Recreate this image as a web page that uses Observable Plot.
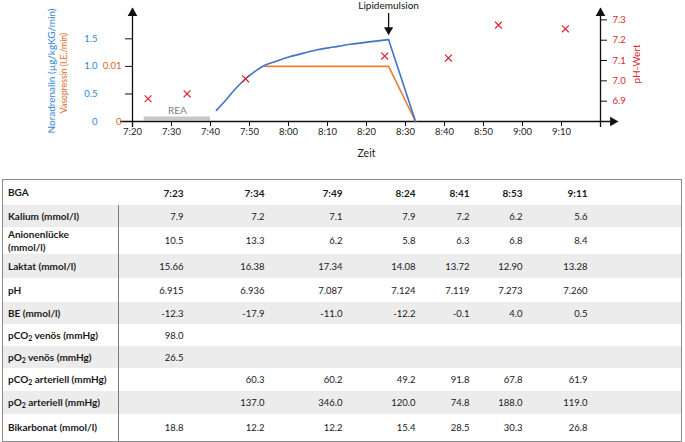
<!DOCTYPE html>
<html><head><meta charset="utf-8">
<script src="https://cdn.jsdelivr.net/npm/d3@7"></script>
<script src="https://cdn.jsdelivr.net/npm/@observablehq/plot@0.6"></script>
<style>
html,body{margin:0;padding:0;background:#fff;}
body{width:685px;height:442px;position:relative;overflow:hidden;font-family:Lato,"Open Sans",sans-serif;}
#chart{position:absolute;left:0;top:0;}
#tbl{position:absolute;left:2px;top:179px;width:678px;border:1.5px solid #8c8c8c;}
#tbl table{border-collapse:collapse;table-layout:fixed;width:678px;color:#1a1a1a;}
#tbl td{padding:0;vertical-align:middle;}
#tbl td.lab{font-weight:bold;font-size:10px;padding-left:5px;line-height:13px;white-space:pre-line;}
#tbl td.val{font-size:9.5px;text-align:right;padding-right:4px;}
#tbl tr.head td{font-weight:bold;font-size:10px;}
#tbl tr.body td.lab{border-right:1.2px solid #7a7a7a;}
#tbl sub{font-size:7px;vertical-align:-2px;line-height:0;}
</style></head><body>
<div id="chart"></div>
<div id="tbl"></div>
<script>
// ---------- data ----------
const bgaTimes = ["7:23","7:34","7:49","8:24","8:41","8:53","9:11"];
const kalium   = [7.9, 7.2, 7.1, 7.9, 7.2, 6.2, 5.6];
const anionen  = [10.5, 13.3, 6.2, 5.8, 6.3, 6.8, 8.4];
const laktat   = [15.66, 16.38, 17.34, 14.08, 13.72, 12.90, 13.28];
const phValues = [6.915, 6.936, 7.087, 7.124, 7.119, 7.273, 7.260];
const be       = [-12.3, -17.9, -11.0, -12.2, -0.1, 4.0, 0.5];
const pco2Ven  = [98.0, null, null, null, null, null, null];
const po2Ven   = [26.5, null, null, null, null, null, null];
const pco2Art  = [null, 60.3, 60.2, 49.2, 91.8, 67.8, 61.9];
const po2Art   = [null, 137.0, 346.0, 120.0, 74.8, 188.0, 119.0];
const bikarb   = [18.8, 12.2, 12.2, 15.4, 28.5, 30.3, 26.8];

const rowLabels = ["Kalium (mmol/l)", "Anionenlücke\n(mmol/l)", "Laktat (mmol/l)", "pH", "BE (mmol/l)",
  "pCO2 venös (mmHg)", "pO2 venös (mmHg)", "pCO2 arteriell (mmHg)", "pO2 arteriell (mmHg)", "Bikarbonat (mmol/l)"];
const rowValues = [kalium, anionen, laktat, phValues, be, pco2Ven, po2Ven, pco2Art, po2Art, bikarb];
const rowDecimals = [1, 1, 2, 3, 1, 1, 1, 1, 1, 1];
const headerLabel = "BGA";

// pH markers as drawn in the chart
const phMarkTimes  = ["7:24","7:34","7:49","8:24:40","8:41","8:53:50","9:11"];
const phMarkValues = [6.912, 6.936, 7.01, 7.122, 7.112, 7.274, 7.256];

const noraTimes  = ["7:41:30","7:43:50","7:46:25","7:49:00","7:51:30","7:53:55","7:56:40","8:00:05",
                    "8:04:25","8:07:25","8:11:35","8:15:55","8:20:10","8:25:40","8:32:35"];
const noraValues = [0.20, 0.38, 0.595, 0.776, 0.915, 1.02, 1.09, 1.17, 1.25, 1.30, 1.35, 1.40, 1.44, 1.485, 0];
const vasoTimes  = ["7:53:55","8:25:40","8:32:35"];
const vasoValues = [0.01, 0.01, 0];

const xDomain = ["7:20","9:20"];
const xTickLabels = ["7:20","7:30","7:40","7:50","8:00","8:10","8:20","8:30","8:40","8:50","9:00","9:10"];
const noraDomain = [0, 2.05];
const vasoDomain = [0, 0.0205];
const phDomain = [6.8, 7.356];
const noraTicks = [0, 0.5, 1.0, 1.5];
const vasoTicks = [0, 0.01];
const phTicks = [6.9, 7.0, 7.1, 7.2, 7.3];
const reaSpan = ["7:23","7:40"];
const reaLabel = "REA";
const lipidTime = "8:25:40";
const lipidLabel = "Lipidemulsion";
const xLabel = "Zeit";
const noraLabel = "Noradrenalin (µg/kgKG/min)";
const vasoLabel = "Vasopressin (I.E./min)";
const phLabel = "pH-Wert";

// ---------- helpers ----------
const T = s => { const [h, m, sec = 0] = s.split(":").map(Number); return new Date(Date.UTC(2000, 0, 1, h, m, sec)); };
const fromVaso = v => v * (noraDomain[1] / vasoDomain[1]);
const toVaso = d => d * (vasoDomain[1] / noraDomain[1]);
const fromPh = p => (p - phDomain[0]) / (phDomain[1] - phDomain[0]) * noraDomain[1];
const toPh = d => phDomain[0] + d / noraDomain[1] * (phDomain[1] - phDomain[0]);

const blueLine = "#4472c4", blueText = "#2f86d6", orange = "#ed7d31", orangeText = "#d8681e",
      red = "#d9242c", axisC = "#111";

const nora = noraTimes.map((t, i) => ({t: T(t), v: noraValues[i]}));
const vaso = vasoTimes.map((t, i) => ({t: T(t), v: fromVaso(vasoValues[i])}));
const ph = phMarkTimes.map((t, i) => ({t: T(t), v: fromPh(phMarkValues[i])}));
const x0 = T(xDomain[0]), x1 = T(xDomain[1]);
const yMid = (noraDomain[0] + noraDomain[1]) / 2;
const reaMid = new Date((T(reaSpan[0]).getTime() + T(reaSpan[1]).getTime()) / 2);

const chart = Plot.plot({
  width: 685, height: 170,
  marginLeft: 132, marginRight: 85, marginTop: 8, marginBottom: 49,
  style: {fontFamily: "Lato, sans-serif", fontSize: "9.5px", background: "transparent", overflow: "visible"},
  x: {type: "utc", domain: [x0, x1]},
  y: {domain: noraDomain},
  marks: [
    // REA bar
    Plot.ruleY([0], {x1: T(reaSpan[0]), x2: T(reaSpan[1]), dy: -3, stroke: "#c8c8c8", strokeWidth: 4}),
    Plot.text([reaLabel], {x: reaMid, y: 0, dy: -11, text: d => d, fill: "#7f7f7f", fontSize: 10}),
    // axis lines
    Plot.ruleY([0], {stroke: axisC, strokeWidth: 1.3, insetLeft: -12, insetRight: -12}),
    Plot.ruleX([x0, x1], {stroke: axisC, strokeWidth: 1.3, insetBottom: -6}),
    Plot.dot([x0, x1], {x: d => d, frameAnchor: "top", dy: 4.6, symbol: "triangle", r: 3.6, fill: axisC, stroke: "none"}),
    Plot.dot([x1], {x: d => d, y: 0, dx: 12.4, symbol: "triangle", rotate: 90, r: 3.6, fill: axisC, stroke: "none"}),
    // axes
    Plot.axisX(xTickLabels.map(T), {tickSize: 5, tickPadding: 2, tickFormat: d3.utcFormat("%-H:%M"),
      stroke: axisC, fill: "#222", label: null, fontSize: 9.5}),
    Plot.axisY(noraTicks, {tickSize: 7, tickPadding: 28, stroke: axisC, fill: blueText, label: null,
      tickFormat: d => d === 0 ? "0" : d.toFixed(1), fontSize: 9.5}),
    Plot.axisY(vasoTicks.map(fromVaso), {tickSize: 0, tickPadding: 11, fill: orangeText, label: null,
      tickFormat: d => String(+toVaso(d).toFixed(4)), fontSize: 9.5}),
    Plot.axisY(phTicks.map(fromPh), {anchor: "right", tickSize: 6, tickPadding: 6, stroke: axisC, fill: red,
      label: null, tickFormat: d => toPh(d).toFixed(1), fontSize: 9.5}),
    // axis titles
    Plot.text([noraLabel], {text: d => d, x: x0, y: yMid, textAnchor: "middle", lineAnchor: "middle",
      dx: -81, dy: 6, rotate: -90, fill: blueText, fontSize: 10}),
    Plot.text([vasoLabel], {text: d => d, x: x0, y: yMid, textAnchor: "middle", lineAnchor: "middle",
      dx: -68, dy: 8, rotate: -90, fill: orangeText, fontSize: 8.6}),
    Plot.text([phLabel], {text: d => d, x: x1, y: yMid, textAnchor: "middle", lineAnchor: "middle",
      dx: 36, dy: -1, rotate: -90, fill: red, fontSize: 10}),
    Plot.text([xLabel], {text: d => d, frameAnchor: "bottom", lineAnchor: "middle", dy: 32, fill: "#222", fontSize: 10.5}),
    // lines
    Plot.line(vaso, {x: "t", y: "v", stroke: orange, strokeWidth: 1.6}),
    Plot.line(nora.slice(0, -1), {x: "t", y: "v", curve: "monotone-x", stroke: blueLine, strokeWidth: 1.6}),
    Plot.line(nora.slice(-2), {x: "t", y: "v", stroke: blueLine, strokeWidth: 1.6}),
    // pH markers
    Plot.dot(ph, {x: "t", y: "v", symbol: "times", r: 3.2, stroke: red, strokeWidth: 1.2}),
    // Lipidemulsion annotation
    Plot.ruleX([T(lipidTime)], {stroke: axisC, strokeWidth: 1.3, insetTop: 5, insetBottom: 92}),
    Plot.dot([T(lipidTime)], {x: d => d, frameAnchor: "top", dy: 21.5, symbol: "triangle", rotate: 180, r: 3.4, fill: axisC, stroke: "none"}),
    Plot.text([lipidLabel], {x: T(lipidTime), text: d => d, frameAnchor: "top", lineAnchor: "middle", dy: -2.3, fill: "#111", fontSize: 10})
  ]
});
document.getElementById("chart").appendChild(chart);

// ---------- table ----------
const colWidths = [115, 69.5, 81, 78, 73, 54, 53, 65, 89.5];
const rowHeights = [22, 27, 24, 24, 22, 22, 22, 23, 23, 27];
const table = d3.select("#tbl").append("table");
const cg = table.append("colgroup");
colWidths.forEach(w => cg.append("col").style("width", w + "px"));
const fmtLabel = s => s.replace(/O2/g, "O<sub>2</sub>");

const head = table.append("tr").attr("class", "head").style("height", "25px").style("background", "#fff");
head.append("td").attr("class", "lab").text(headerLabel);
bgaTimes.forEach(t => head.append("td").attr("class", "val").text(t));
head.append("td");

rowLabels.forEach((lab, r) => {
  const tr = table.append("tr").attr("class", "body")
    .style("height", rowHeights[r] + "px")
    .style("background", r % 2 === 0 ? "#ececec" : "#ffffff");
  tr.append("td").attr("class", "lab").html(fmtLabel(lab));
  rowValues[r].forEach(v => tr.append("td").attr("class", "val").text(v == null ? "" : v.toFixed(rowDecimals[r])));
  tr.append("td");
});
</script>
</body></html>
